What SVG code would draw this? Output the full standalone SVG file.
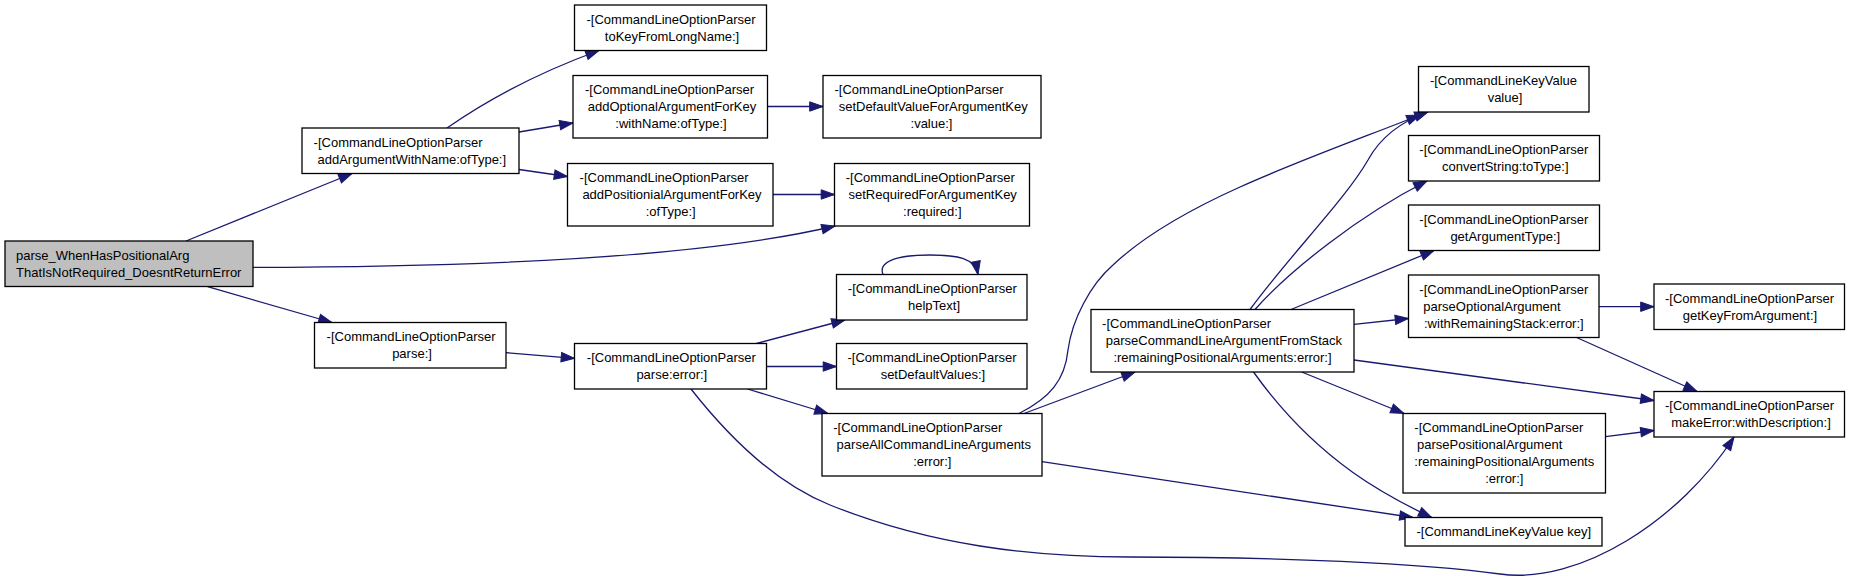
<svg xmlns="http://www.w3.org/2000/svg" width="1851" height="581" viewBox="0 0 1851 581">
<style>
.node rect{fill:#fff;stroke:#000;stroke-width:1.3}
#n1 rect{fill:#bfbfbf}
text{font-family:"Liberation Sans",Arial,Helvetica,sans-serif;font-size:13px;fill:#000}
.m{text-anchor:middle}
.e{fill:none;stroke:#191970;stroke-width:1.3;marker-end:url(#ah)}
</style>
<defs>
<marker id="ah" viewBox="0 0 13.3 9.4" refX="13.3" refY="4.7" markerWidth="13.3" markerHeight="9.4" markerUnits="userSpaceOnUse" orient="auto" overflow="visible">
<path d="M0,0 L13.3,4.7 L0,9.4 z" fill="#191970" stroke="#191970" stroke-width="1"/>
</marker>
</defs>
<rect width="1851" height="581" fill="#fff"/>
<g id="edges">
<path class="e" d="M186,241 L352,173.5"/>
<path class="e" d="M447,128 C490,98 540,72 599,50.5"/>
<path class="e" d="M519,132 L573,123"/>
<path class="e" d="M519,169.5 L567.5,176.5"/>
<path class="e" d="M767.5,106.5 L823,106.5"/>
<path class="e" d="M773,194.5 L834.5,194.5"/>
<path class="e" d="M253,267.3 C480,267 700,258 835,226"/>
<path class="e" d="M207.6,286.7 L332,322.5"/>
<path class="e" d="M506,352.7 L574.5,358.3"/>
<path class="e" d="M756.4,343.5 L845,320"/>
<path class="e" d="M883,274.5 C878,262 895,255 930,255 C958,255 975,258 978,274.5"/>
<path class="e" d="M766.5,366.5 L836.5,366.5"/>
<path class="e" d="M747.5,389 L828,413.5"/>
<path class="e" d="M691,389 C735,445 780,485 830,505 C930,545 1030,557 1130,557 C1280,557 1420,563 1500,574 C1580,585 1680,520 1734,437"/>
<path class="e" d="M1019,413.5 C1050,398 1065,380 1068,350 C1072,320 1090,285 1113,265 C1150,230 1200,205 1240,187 C1300,160 1370,135 1420,115"/>
<path class="e" d="M1024,413.5 L1135,372"/>
<path class="e" d="M1042,461.7 L1413,517.5"/>
<path class="e" d="M1250,309.5 C1290,255 1345,200 1368,160 C1380,138 1400,122 1428,112"/>
<path class="e" d="M1255,309.5 C1290,270 1360,215 1427,181"/>
<path class="e" d="M1291,309.5 L1434,250.5"/>
<path class="e" d="M1354,324.3 L1408.5,318.5"/>
<path class="e" d="M1354,360 L1654,400.5"/>
<path class="e" d="M1301.7,372 L1404,413.5"/>
<path class="e" d="M1253.5,372 C1320,465 1395,500 1431.7,517.5"/>
<path class="e" d="M1599,306.7 L1654,306.7"/>
<path class="e" d="M1576.6,337.5 L1697,391.5"/>
<path class="e" d="M1605.5,436.7 L1654,430.5"/>
</g>
<g id="n1" class="node"><rect x="5" y="241" width="248" height="45.5"/><text x="16" y="259.75">parse_WhenHasPositionalArg</text><text x="16" y="276.75">ThatIsNotRequired_DoesntReturnError</text></g>
<g id="n2" class="node"><rect x="302" y="128" width="217" height="45.5"/><text x="313.6" y="146.75">-[CommandLineOptionParser</text><text x="317.5" y="163.75">addArgumentWithName:ofType:]</text></g>
<g id="n3" class="node"><rect x="574.5" y="5" width="192" height="45.5"/><text x="586.5" y="23.75">-[CommandLineOptionParser</text><text class="m" x="672" y="40.75">toKeyFromLongName:]</text></g>
<g id="n4" class="node"><rect x="573" y="75.5" width="194.5" height="62.5"/><text x="585" y="94.25">-[CommandLineOptionParser</text><text class="m" x="672" y="111.25">addOptionalArgumentForKey</text><text class="m" x="671" y="128.25">:withName:ofType:]</text></g>
<g id="n5" class="node"><rect x="823" y="75.5" width="218" height="62.5"/><text x="834.5" y="94.25">-[CommandLineOptionParser</text><text class="m" x="933.2" y="111.25">setDefaultValueForArgumentKey</text><text class="m" x="931.5" y="128.25">:value:]</text></g>
<g id="n6" class="node"><rect x="567.5" y="163.5" width="205.5" height="62.5"/><text x="579.6" y="182.25">-[CommandLineOptionParser</text><text class="m" x="672" y="199.25">addPositionialArgumentForKey</text><text class="m" x="670.7" y="216.25">:ofType:]</text></g>
<g id="n7" class="node"><rect x="834.5" y="163.5" width="195" height="62.5"/><text x="845.7" y="182.25">-[CommandLineOptionParser</text><text class="m" x="932.7" y="199.25">setRequiredForArgumentKey</text><text class="m" x="932.3" y="216.25">:required:]</text></g>
<g id="n8" class="node"><rect x="836.5" y="274.5" width="190.5" height="45.5"/><text x="847.8" y="293.25">-[CommandLineOptionParser</text><text class="m" x="934" y="310.25">helpText]</text></g>
<g id="n9" class="node"><rect x="314.5" y="322.5" width="191.5" height="45.5"/><text x="326.6" y="341.25">-[CommandLineOptionParser</text><text class="m" x="412" y="358.25">parse:]</text></g>
<g id="n10" class="node"><rect x="574.5" y="343.5" width="192" height="45.5"/><text x="586.8" y="362.25">-[CommandLineOptionParser</text><text class="m" x="671.8" y="379.25">parse:error:]</text></g>
<g id="n11" class="node"><rect x="836.5" y="343.5" width="190.5" height="45.5"/><text x="847.5" y="362.25">-[CommandLineOptionParser</text><text class="m" x="932.9" y="379.25">setDefaultValues:]</text></g>
<g id="n12" class="node"><rect x="822" y="413.5" width="220" height="62.5"/><text x="833.2" y="432.25">-[CommandLineOptionParser</text><text class="m" x="933.8" y="449.25">parseAllCommandLineArguments</text><text class="m" x="932.3" y="466.25">:error:]</text></g>
<g id="n13" class="node"><rect x="1091" y="309.5" width="263" height="62.5"/><text x="1102.1" y="328.25">-[CommandLineOptionParser</text><text x="1105.8" y="345.25">parseCommandLineArgumentFromStack</text><text class="m" x="1222.5" y="362.25">:remainingPositionalArguments:error:]</text></g>
<g id="n14" class="node"><rect x="1418.5" y="66.5" width="170.5" height="45.5"/><text class="m" x="1503.5" y="85.25">-[CommandLineKeyValue</text><text class="m" x="1505" y="102.25">value]</text></g>
<g id="n15" class="node"><rect x="1408.5" y="135.5" width="191" height="45.5"/><text x="1419.3" y="154.25">-[CommandLineOptionParser</text><text class="m" x="1505.3" y="171.25">convertString:toType:]</text></g>
<g id="n16" class="node"><rect x="1408.5" y="205" width="191" height="45.5"/><text x="1419.3" y="223.75">-[CommandLineOptionParser</text><text class="m" x="1505.3" y="240.75">getArgumentType:]</text></g>
<g id="n17" class="node"><rect x="1408.5" y="275" width="190.5" height="62.5"/><text x="1419.3" y="293.75">-[CommandLineOptionParser</text><text x="1423.3" y="310.75">parseOptionalArgument</text><text x="1424" y="327.75">:withRemainingStack:error:]</text></g>
<g id="n18" class="node"><rect x="1654" y="284" width="190.5" height="45.5"/><text x="1665" y="302.75">-[CommandLineOptionParser</text><text class="m" x="1750" y="319.75">getKeyFromArgument:]</text></g>
<g id="n19" class="node"><rect x="1654" y="391.5" width="190.5" height="45.5"/><text x="1665" y="410.25">-[CommandLineOptionParser</text><text class="m" x="1751" y="427.25">makeError:withDescription:]</text></g>
<g id="n20" class="node"><rect x="1403" y="413.5" width="202.5" height="79.5"/><text x="1414.3" y="432.25">-[CommandLineOptionParser</text><text x="1417" y="449.25">parsePositionalArgument</text><text x="1414.3" y="466.25">:remainingPositionalArguments</text><text class="m" x="1504.3" y="483.25">:error:]</text></g>
<g id="n21" class="node"><rect x="1405" y="517.5" width="197" height="28.5"/><text class="m" x="1503.8" y="536.25">-[CommandLineKeyValue key]</text></g>
</svg>
